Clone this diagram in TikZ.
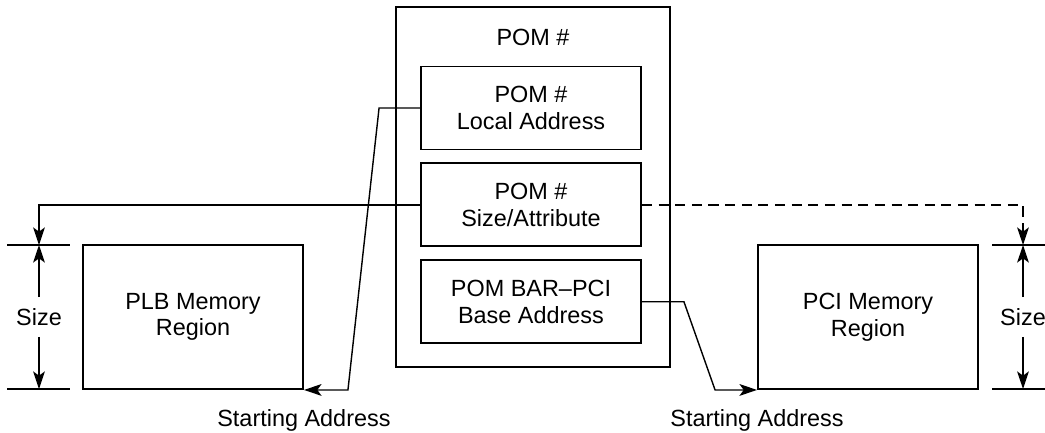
\documentclass[tikz,border=0pt]{standalone}
\usepackage{fontspec}
\setmainfont{Liberation Sans}
\usetikzlibrary{arrows.meta}
\usetikzlibrary{positioning}

\begin{document}
\begin{tikzpicture}[x=0.015cm,y=-0.015cm,
    font=\fontsize{10pt}{11.4pt}\selectfont,
    regbox/.style={draw,line width=0.8pt,align=center,minimum width=3.3cm,minimum height=1.245cm},
    membox/.style={draw,line width=0.8pt,align=center,minimum width=3.3cm,minimum height=2.16cm},
    conn/.style={line width=0.6pt,-{Stealth[length=7.5pt,width=5pt,inset=1.8pt]}},
    tick/.style={line width=0.8pt},
    dimlabel/.style={inner xsep=1pt,inner ysep=4.6pt}]
    \useasboundingbox (0,0) rectangle (1045,432);
    % POM register set
    \node[draw,line width=0.8pt,minimum width=4.11cm,minimum height=5.4cm] (pom) at (533,187) {};
    \node (pomtitle) at (533,37) {POM \#};
    \node[regbox] (loc) at (531,108) {POM \#\\Local Address};
    \node[regbox,below=0.18cm of loc] (attr) {POM \#\\Size/Attribute};
    \node[regbox,below=0.18cm of attr] (base) {POM BAR--PCI\\Base Address};
    % memory regions
    \node[membox] (plb) at (193,317) {PLB Memory\\Region};
    \node[membox] (pci) at (868,317) {PCI Memory\\Region};
    \node[below=0.17cm of plb.south east] (plbstart) {Starting Address};
    \node[below=0.17cm of pci.south west] (pcistart) {Starting Address};
    % size marks
    \coordinate (ltop) at (39,245);
    \coordinate (lbot) at (39,389);
    \coordinate (rtop) at (1023,245);
    \coordinate (rbot) at (1023,389);
    \draw[tick] (7,245) -- (70,245) (7,389) -- (70,389);
    \draw[tick] (992,245) -- (1050,245) (992,389) -- (1050,389);
    \node[dimlabel] (lsize) at (39,317) {Size};
    \node[dimlabel] (rsize) at (1023,317) {Size};
    \draw[conn] (lsize) -- (ltop);
    \draw[conn] (lsize) -- (lbot);
    \draw[conn] (rsize) -- (rtop);
    \draw[conn] (rsize) -- (rbot);
    % connections
    \draw[conn] (attr.west) -| (ltop);
    \draw[conn,dash pattern=on 4.3pt off 2.8pt] (attr.east) -| (rtop);
    \draw[conn] (loc.west) -- ++(-41,0) -- ([xshift=0.66cm]plb.south east) -- (plb.south east);
    \draw[conn] (base.east) -- ++(42,0) -- ([xshift=-0.63cm]pci.south west) -- (pci.south west);
\end{tikzpicture}
\end{document}
